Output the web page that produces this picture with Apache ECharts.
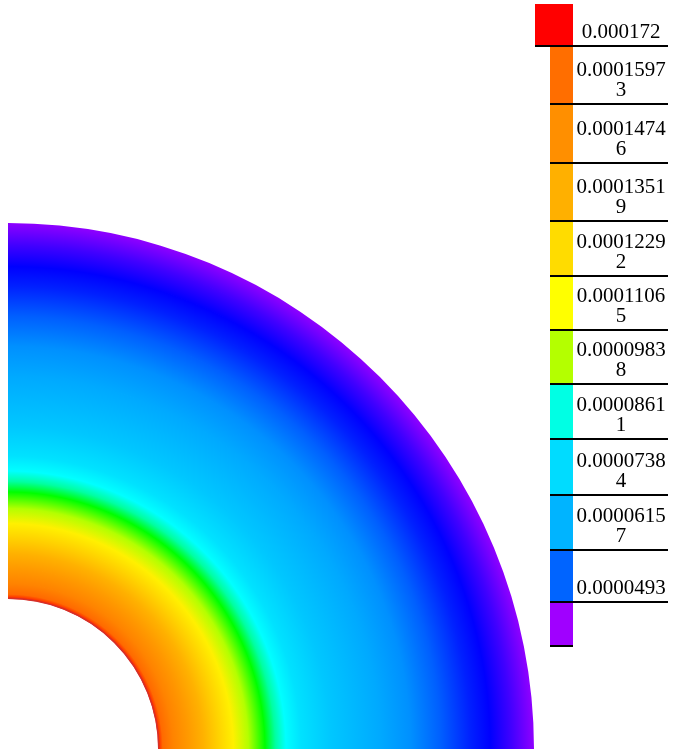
<!DOCTYPE html>
<html>
<head>
<meta charset="utf-8">
<title>quarter ring</title>
<script src="https://cdn.jsdelivr.net/npm/echarts@6.0.0/dist/echarts.min.js"></script>
<style>
  html, body { margin: 0; padding: 0; background: #fff; }
  #main { width: 675px; height: 749px; }
</style>
</head>
<body>
<div id="main"></div>
<script>
  // radius samples (inner radius = 1) and the value read at each one
  const radii = [1.00, 1.03, 1.10, 1.20, 1.30, 1.40, 1.50, 1.60, 1.71, 1.78, 1.85, 1.95, 2.15, 2.48, 2.68, 2.88, 3.08, 3.21, 3.35, 3.50]
  const values = [0.000168, 0.000157, 0.000150, 0.000143, 0.000135, 0.000126, 0.000116, 0.000107, 0.0000984, 0.0000906,
    0.0000861, 0.0000779, 0.0000689, 0.0000608, 0.0000591, 0.0000558, 0.0000515, 0.0000493, 0.0000444, 0.0000383]
  const angles = [0, 90]

  // legend levels, top to bottom
  const legendLabels = ['0.000172', '0.00015973', '0.00014746', '0.00013519', '0.00012292', '0.00011065',
    '0.00009838', '0.00008611', '0.00007384', '0.00006157', '0.0000493']
  const legendColors = ['#ff0000', '#ff6e00', '#ff8f00', '#ffb000', '#ffdc00', '#ffff00',
    '#b4ff00', '#00ffe4', '#00dcff', '#00b4ff', '#0064ff', '#a000ff']
  const minValue = 0.00003703
  const maxValue = 0.000172

  // continuous ramp used on the ring, low -> high
  const ramp = ['#a000ff', '#0000ff', '#00b4ff', '#00d4ff', '#00ffff', '#00ff00',
    '#ffff00', '#ffdc00', '#ffb000', '#ff8c00', '#ff6000', '#ff0000']

  function colorOf(v) {
    return echarts.color.lerp((v - minValue) / (maxValue - minValue), ramp)
  }

  const ringData = []
  for (let i = 0; i < radii.length - 1; i++) {
    ringData.push([radii[i], radii[i + 1], values[i], values[i + 1]])
  }

  function renderRing(params, api) {
    const cs = params.coordSys
    const cx = cs.cx
    const cy = cs.cy
    const R = cs.r
    const pIn = api.coord([api.value(0), angles[0]])
    const pOut = api.coord([api.value(1), angles[0]])
    const pEnd = api.coord([api.value(1), angles[1]])
    const r0 = Math.hypot(pIn[0] - cx, pIn[1] - cy)
    const r1 = Math.hypot(pOut[0] - cx, pOut[1] - cy)
    const a0 = Math.atan2(pOut[1] - cy, pOut[0] - cx)
    const a1 = Math.atan2(pEnd[1] - cy, pEnd[0] - cx)
    const last = params.dataIndex === ringData.length - 1
    const children = [{
      type: 'sector',
      shape: { cx: cx, cy: cy, r0: r0, r: last ? r1 : r1 + 1, startAngle: a0, endAngle: a1, clockwise: true },
      style: {
        fill: {
          type: 'radial', x: cx, y: cy, r: R, global: true,
          colorStops: [
            { offset: r0 / R, color: colorOf(api.value(2)) },
            { offset: r1 / R, color: colorOf(api.value(3)) }
          ]
        }
      }
    }]
    if (params.dataIndex === 0) {
      // thin edge on the inner hole
      children.push({
        type: 'arc',
        shape: { cx: cx, cy: cy, r: r0 + 0.5, startAngle: a0, endAngle: a1, clockwise: true },
        style: { stroke: '#d4302a', lineWidth: 1.5, fill: null }
      })
    }
    return { type: 'group', children: children }
  }

  // legend layout
  const lineYs = [46, 104, 163, 221, 276, 330, 384, 439, 495, 550, 602, 646]
  const barX = 550
  const barW = 23
  const legend = []
  legend.push({ type: 'rect', shape: { x: 535, y: 4, width: 38, height: lineYs[0] - 4 }, style: { fill: legendColors[0] } })
  for (let i = 1; i < legendColors.length; i++) {
    legend.push({ type: 'rect', shape: { x: barX, y: lineYs[i - 1], width: barW, height: lineYs[i] - lineYs[i - 1] }, style: { fill: legendColors[i] } })
  }
  lineYs.forEach(function(y, i) {
    const x1 = i === 0 ? 535 : barX
    const x2 = i === lineYs.length - 1 ? barX + barW : 668
    legend.push({ type: 'line', shape: { x1: x1, y1: y, x2: x2, y2: y }, style: { stroke: '#000', lineWidth: 2 } })
  })
  legendLabels.forEach(function(s, i) {
    const txt = s.length > 9 ? s.slice(0, 9) + '\n' + s.slice(9) : s
    legend.push({
      type: 'text',
      x: 621,
      y: lineYs[i] - 4,
      style: {
        text: txt, fill: '#000', align: 'center', verticalAlign: 'bottom',
        font: '21px "Liberation Serif"', lineHeight: 20
      }
    })
  })

  const myChart = echarts.init(document.getElementById('main'))
  myChart.setOption({
    animation: false,
    polar: { center: [8, 749], radius: [0, 526] },
    angleAxis: { type: 'value', min: 0, max: 360, startAngle: 90, clockwise: true, show: false },
    radiusAxis: { type: 'value', min: 0, max: 3.5, show: false },
    series: [{
      type: 'custom',
      coordinateSystem: 'polar',
      renderItem: renderRing,
      data: ringData
    }],
    graphic: legend
  })
</script>
</body>
</html>
